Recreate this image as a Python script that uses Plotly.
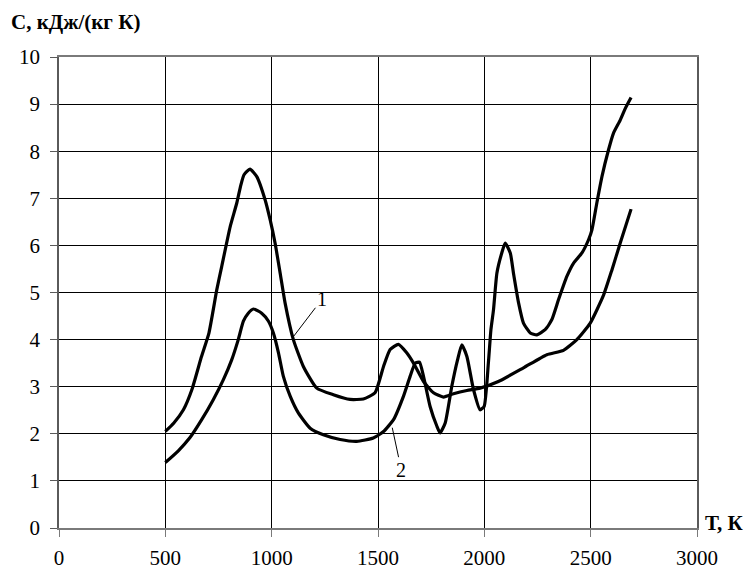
import plotly.graph_objects as go

# Curve 1 (upper on the left, ends near 6.8)
T1 = [500, 540, 585, 625, 670, 705, 742, 765, 805, 836, 855, 870, 898, 930, 969,
      993, 1016, 1040, 1063, 1102, 1149, 1212, 1290, 1369, 1431, 1486, 1526, 1557,
      1596, 1635, 1667, 1714, 1761, 1808, 1855, 1918, 1980, 2066, 2184, 2294, 2372,
      2435, 2498, 2561, 2600, 2639, 2690]
C1 = [2.05, 2.23, 2.51, 2.94, 3.64, 4.14, 5.06, 5.55, 6.40, 6.90, 7.28, 7.50, 7.62,
      7.46, 6.97, 6.54, 6.05, 5.41, 4.78, 4.00, 3.43, 2.97, 2.83, 2.73, 2.74, 2.87,
      3.43, 3.79, 3.90, 3.72, 3.50, 3.11, 2.87, 2.78, 2.85, 2.92, 2.97, 3.11, 3.40,
      3.68, 3.77, 4.00, 4.35, 4.95, 5.48, 6.05, 6.77]

# Curve 2 (lower on the left, ends near 9.1)
T2 = [500, 561, 616, 671, 726, 773, 812, 843, 867, 890, 914, 953, 985, 1008, 1032,
      1055, 1087, 1126, 1181, 1243, 1322, 1400, 1478, 1526, 1573, 1620, 1651, 1675,
      1695, 1714, 1745, 1777, 1792, 1816, 1847, 1874, 1894, 1918, 1949, 1980, 1999,
      2019, 2031, 2043, 2059, 2082, 2098, 2122, 2137, 2161, 2184, 2216, 2247, 2286,
      2317, 2349, 2388, 2419, 2459, 2490, 2506, 2529, 2553, 2584, 2607, 2639, 2663, 2690]
C2 = [1.39, 1.64, 1.92, 2.30, 2.73, 3.15, 3.57, 4.00, 4.39, 4.56, 4.65, 4.56, 4.39,
      4.14, 3.72, 3.22, 2.80, 2.44, 2.12, 1.98, 1.88, 1.84, 1.91, 2.05, 2.30, 2.80,
      3.22, 3.50, 3.52, 3.22, 2.58, 2.16, 2.02, 2.23, 3.01, 3.57, 3.89, 3.64, 2.94,
      2.51, 2.58, 3.50, 4.21, 4.63, 5.41, 5.84, 6.05, 5.84, 5.41, 4.78, 4.35, 4.14,
      4.10, 4.21, 4.42, 4.85, 5.34, 5.62, 5.84, 6.12, 6.33, 6.90, 7.46, 8.03, 8.38,
      8.66, 8.91, 9.14]

X_TICKS = [0, 500, 1000, 1500, 2000, 2500, 3000]
Y_TICKS = list(range(0, 11))

FONT = "Liberation Serif"

fig = go.Figure()
for T, C in [(T1, C1), (T2, C2)]:
    fig.add_trace(go.Scatter(x=T, y=C, mode="lines",
                             line=dict(color="black", width=3.2, shape="spline", smoothing=0.5),
                             showlegend=False, hoverinfo="skip"))

fig.update_layout(
    width=752, height=571,
    margin=dict(l=51, r=63, t=49, b=51),
    paper_bgcolor="white", plot_bgcolor="white",
    font=dict(family=FONT, size=21, color="black"),
    xaxis=dict(range=[0, 3000], tickvals=X_TICKS, showgrid=True, gridcolor="black",
               gridwidth=1, showline=True, linecolor="#7a7a7a", linewidth=1.5, mirror=True,
               ticks="outside", ticklen=7, tickcolor="#7a7a7a", ticklabelstandoff=3,
               tickfont=dict(size=21, family=FONT, color="black"),
               zeroline=False, automargin=False),
    yaxis=dict(range=[0, 10], tickvals=Y_TICKS, showgrid=True, gridcolor="black",
               gridwidth=1, showline=True, linecolor="#5a5a5a", linewidth=1.5, mirror=True,
               ticks="outside", ticklen=7, tickcolor="#5a5a5a", ticklabelstandoff=6,
               tickfont=dict(size=21, family=FONT, color="black"),
               zeroline=False, automargin=False),
    annotations=[
        dict(text="<b>С, кДж/(кг К)</b>", xref="paper", yref="paper",
             x=-0.078, y=1.074, xanchor="left", yanchor="middle", showarrow=False,
             font=dict(size=21, family=FONT, color="black")),
        dict(text="<b>Т, К</b>", xref="paper", yref="paper",
             x=1.01, y=0.01, xanchor="left", yanchor="middle", showarrow=False,
             font=dict(size=21, family=FONT, color="black")),
        dict(text="1", x=1100, y=4.05, xref="x", yref="y", showarrow=True,
             ax=29, ay=-38, arrowhead=0, arrowwidth=1, arrowcolor="black",
             font=dict(size=20, family=FONT, color="black")),
        dict(text="2", x=1567, y=2.13, xref="x", yref="y", showarrow=True,
             ax=9, ay=42, arrowhead=0, arrowwidth=1, arrowcolor="black",
             font=dict(size=20, family=FONT, color="black")),
    ],
)

fig.write_html("out.html")
